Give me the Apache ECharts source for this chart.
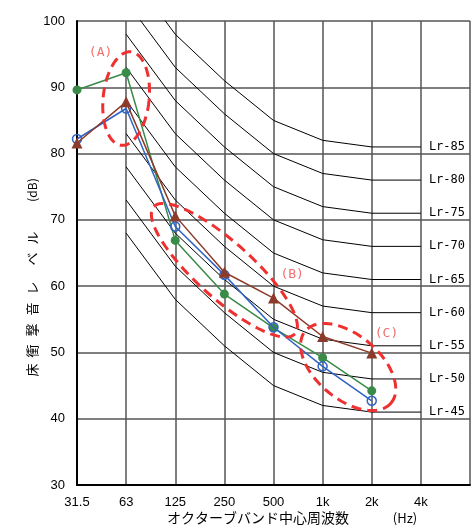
<!DOCTYPE html>
<html>
<head>
<meta charset="utf-8">
<script src="https://cdn.jsdelivr.net/npm/echarts@6/dist/echarts.min.js"></script>
<style>
html, body { margin: 0; padding: 0; background: #fff; }
#main { width: 473px; height: 526px; }
</style>
</head>
<body>
<div id="main"></div>
<script>
// オクターブバンド
var bandLabels = ['31.5', '63', '125', '250', '500', '1k', '2k', '4k'];

// 測定値 31.5Hz〜2kHz
var levelGreen = [89.6, 92.2, 66.9, 58.8, 53.7, 49.2, 44.2];
var levelBlue = [82.2, 86.8, 69.0, 61.7, 53.8, 47.9, 42.7];
var levelBrown = [81.6, 87.8, 70.6, 62.1, 58.2, 52.4, 49.9];

// Lr曲線 63Hz〜4kHz
var lrNames = ['Lr-45', 'Lr-50', 'Lr-55', 'Lr-60', 'Lr-65', 'Lr-70', 'Lr-75', 'Lr-80', 'Lr-85'];
var lr45 = [68, 58, 51, 45, 42, 41, 41];
var lr50 = [73, 63, 56, 50, 47, 46, 46];
var lr55 = [78, 68, 61, 55, 52, 51, 51];
var lr60 = [83, 73, 66, 60, 57, 56, 56];
var lr65 = [88, 78, 71, 65, 62, 61, 61];
var lr70 = [93, 83, 76, 70, 67, 66, 66];
var lr75 = [98, 88, 81, 75, 72, 71, 71];
var lr80 = [103, 93, 86, 80, 77, 76, 76];
var lr85 = [108, 98, 91, 85, 82, 81, 81];
var lrValues = [lr45, lr50, lr55, lr60, lr65, lr70, lr75, lr80, lr85];

// 丸印 (A)(B)(C) の中心 [バンド位置, dB]
var markNames = ['(A)', '(B)', '(C)'];
var markCenters = [[1, 88.3], [3, 62.4], [5.52, 47.8]];
var markTextPos = [[0.48, 95.3], [4.38, 61.7], [6.3, 52.9]];

var myChart = echarts.init(document.getElementById('main'));

var toPairs = function (values, start) {
    var arr = [];
    for (var i = 0; i < values.length; i++) {
        arr.push([i + start, values[i]]);
    }
    return arr;
};

var series = [];
for (var k = 0; k < lrValues.length; k++) {
    series.push({
        type: 'line',
        name: lrNames[k],
        data: toPairs(lrValues[k], 1),
        symbol: 'none',
        silent: true,
        z: 1,
        lineStyle: { color: '#000', width: 1 },
        endLabel: {
            show: true,
            formatter: lrNames[k],
            distance: 8,
            color: '#000',
            fontSize: 12,
            fontFamily: 'DejaVu Sans Mono'
        }
    });
}

series.push({
    type: 'line',
    name: 'green',
    data: toPairs(levelGreen, 0),
    symbol: 'circle',
    symbolSize: 9,
    z: 3,
    itemStyle: { color: '#3a8b47' },
    lineStyle: { color: '#3a8b47', width: 1.5 }
});
series.push({
    type: 'line',
    name: 'blue',
    data: toPairs(levelBlue, 0),
    symbol: 'circle',
    symbolSize: 9,
    z: 4,
    itemStyle: { color: 'rgba(0,0,0,0)', borderColor: '#2f63c6', borderWidth: 1.5 },
    lineStyle: { color: '#2f63c6', width: 1.5 }
});
series.push({
    type: 'line',
    name: 'brown',
    data: toPairs(levelBrown, 0),
    symbol: 'triangle',
    symbolSize: 11,
    z: 5,
    itemStyle: { color: '#8c3a29' },
    lineStyle: { color: '#8c3a29', width: 1.5 }
});

var option = {
    animation: false,
    backgroundColor: '#fff',
    grid: { left: 77, right: 1, top: 21, bottom: 41 },
    xAxis: {
        type: 'value',
        min: 0,
        max: 8,
        interval: 1,
        axisLine: { show: true, onZero: false, lineStyle: { color: '#000', width: 2 } },
        axisTick: { show: false },
        axisLabel: {
            margin: 11,
            color: '#000',
            fontSize: 13,
            fontFamily: 'Liberation Sans',
            formatter: function (v) { return bandLabels[v] || ''; }
        },
        splitLine: { show: true, lineStyle: { color: '#555', width: 1.5 } }
    },
    yAxis: {
        type: 'value',
        min: 30,
        max: 100,
        interval: 10,
        axisLine: { show: true, lineStyle: { color: '#000', width: 2 } },
        axisTick: { show: false },
        axisLabel: { margin: 12, color: '#000', fontSize: 13, fontFamily: 'Liberation Sans' },
        splitLine: { show: true, lineStyle: { color: '#555', width: 1.5 } }
    },
    series: series
};
myChart.setOption(option);

// 楕円（破線）
var ellipseShape = function (c, rx, ry, deg) {
    var th = deg * Math.PI / 180;
    var pts = [];
    for (var i = 0; i < 90; i++) {
        var t = i / 90 * Math.PI * 2;
        var ex = rx * Math.cos(t), ey = ry * Math.sin(t);
        pts.push([c[0] + ex * Math.cos(th) - ey * Math.sin(th), c[1] + ex * Math.sin(th) + ey * Math.cos(th)]);
    }
    return pts;
};
var ellipseSize = [[23, 47, 6], [95, 28, 42], [56, 32, 40]];

var graphics = [];
for (var m = 0; m < markCenters.length; m++) {
    var c = myChart.convertToPixel({ gridIndex: 0 }, markCenters[m]);
    var tp = myChart.convertToPixel({ gridIndex: 0 }, markTextPos[m]);
    graphics.push({
        type: 'polygon',
        z: 100,
        silent: true,
        shape: { points: ellipseShape(c, ellipseSize[m][0], ellipseSize[m][1], ellipseSize[m][2]) },
        style: { fill: 'none', stroke: '#ee3030', lineWidth: 3, lineDash: [10, 6] }
    });
    graphics.push({
        type: 'text',
        z: 100,
        x: tp[0],
        y: tp[1],
        style: {
            text: markNames[m], fill: '#f07070', fontSize: 13,
            fontFamily: 'DejaVu Sans Mono', align: 'center', verticalAlign: 'middle'
        }
    });
}

// 縦軸タイトル
var yTitle = ['床', '衝', '撃', '音', 'レ', 'ベ', 'ル'];
var yTitleY = [370, 351, 330, 309, 288, 259, 238];
for (var j = 0; j < yTitle.length; j++) {
    graphics.push({
        type: 'text', x: 32, y: yTitleY[j], rotation: Math.PI / 2,
        style: { text: yTitle[j], fill: '#000', fontSize: 13, fontFamily: 'Noto Sans CJK JP', align: 'center', verticalAlign: 'middle' }
    });
}
graphics.push({
    type: 'text', x: 32, y: 190, rotation: Math.PI / 2,
    style: { text: '(dB)', fill: '#000', fontSize: 12, fontFamily: 'Noto Sans CJK JP', align: 'center', verticalAlign: 'middle' }
});

// 横軸タイトル
graphics.push({
    type: 'text', x: 258, y: 518,
    style: { text: 'オクターブバンド中心周波数', fill: '#000', fontSize: 14, fontFamily: 'Noto Sans CJK JP', align: 'center', verticalAlign: 'middle' }
});
graphics.push({
    type: 'text', x: 405, y: 518,
    style: { text: '(Hz)', fill: '#000', fontSize: 13, fontFamily: 'Noto Sans CJK JP', align: 'center', verticalAlign: 'middle' }
});

myChart.setOption({ graphic: graphics });
</script>
</body>
</html>
